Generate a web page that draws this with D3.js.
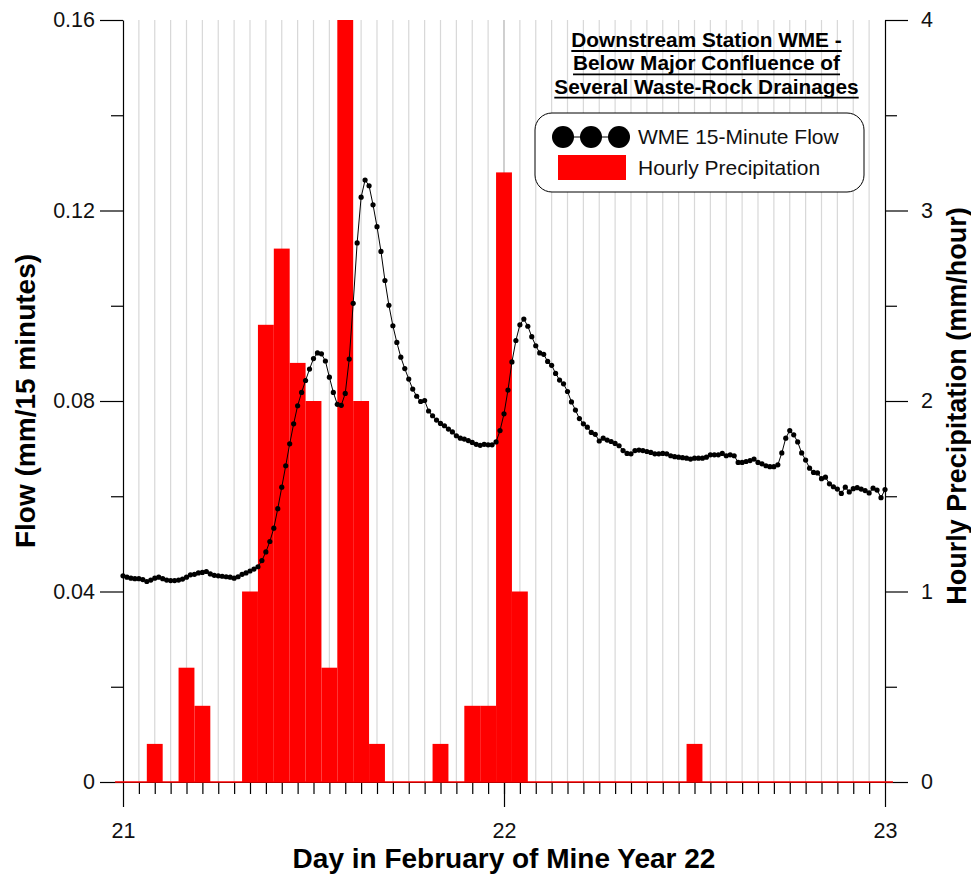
<!DOCTYPE html>
<html>
<head>
<meta charset="utf-8">
<script src="https://cdn.jsdelivr.net/npm/d3@7"></script>
<style>
  html, body { margin: 0; padding: 0; background: #fff; }
  svg { display: block; font-family: Arial, "Liberation Sans", sans-serif; }
</style>
</head>
<body>
<svg id="chart" width="971" height="874"></svg>
<script>
// Day-of-month range shown on the x axis
const dayTicks = [21, 22, 23];
const startDay = 21;

// WME 15-minute flow (mm / 15 minutes), one value every 15 minutes from day 21 00:00
const flowValues = [
  0.0433, 0.0430, 0.0428, 0.0427, 0.0427, 0.0425, 0.0421, 0.0424, 0.0428, 0.0430,
  0.0427, 0.0424, 0.0423, 0.0423, 0.0424, 0.0426, 0.0430, 0.0435, 0.0436, 0.0439,
  0.0440, 0.0442, 0.0437, 0.0434, 0.0433, 0.0432, 0.0431, 0.0430, 0.0428, 0.0431,
  0.0436, 0.0439, 0.0443, 0.0447, 0.0452, 0.0465, 0.0483, 0.0505, 0.0533, 0.0574,
  0.0619, 0.0664, 0.0710, 0.0752, 0.0790, 0.0818, 0.0843, 0.0867, 0.0889, 0.0901,
  0.0899, 0.0884, 0.0850, 0.0818, 0.0793, 0.0791, 0.0816, 0.0888, 0.1005, 0.1132,
  0.1228, 0.1264, 0.1252, 0.1212, 0.1166, 0.1114, 0.1053, 0.1001, 0.0958, 0.0923,
  0.0892, 0.0868, 0.0846, 0.0825, 0.0810, 0.0799, 0.0801, 0.0779, 0.0769, 0.0760,
  0.0753, 0.0748, 0.0741, 0.0735, 0.0727, 0.0722, 0.0720, 0.0717, 0.0713, 0.0709,
  0.0707, 0.0709, 0.0708, 0.0708, 0.0714, 0.0738, 0.0773, 0.0823, 0.0882, 0.0927,
  0.0960, 0.0972, 0.0957, 0.0935, 0.0916, 0.0901, 0.0898, 0.0883, 0.0875, 0.0858,
  0.0844, 0.0836, 0.0820, 0.0798, 0.0781, 0.0763, 0.0752, 0.0745, 0.0734, 0.0730,
  0.0716, 0.0722, 0.0718, 0.0715, 0.0711, 0.0706, 0.0696, 0.0690, 0.0689, 0.0696,
  0.0697, 0.0696, 0.0694, 0.0692, 0.0689, 0.0689, 0.0690, 0.0689, 0.0685, 0.0683,
  0.0682, 0.0681, 0.0680, 0.0678, 0.0680, 0.0680, 0.0680, 0.0682, 0.0687, 0.0687,
  0.0687, 0.0690, 0.0685, 0.0687, 0.0685, 0.0671, 0.0671, 0.0673, 0.0675, 0.0678,
  0.0671, 0.0668, 0.0664, 0.0662, 0.0662, 0.0666, 0.0691, 0.0722, 0.0738, 0.0729,
  0.0714, 0.0691, 0.0676, 0.0659, 0.0650, 0.0649, 0.0637, 0.0640, 0.0626, 0.0620,
  0.0615, 0.0606, 0.0619, 0.0609, 0.0616, 0.0618, 0.0615, 0.0612, 0.0607, 0.0617,
  0.0613, 0.0597, 0.0614
];

// Hourly precipitation (mm / hour), one value per hour from day 21 00:00 to day 23 00:00
const precipValues = [
  0, 0, 0.2, 0, 0.6, 0.4, 0, 0, 1.0, 2.4,
  2.8, 2.2, 2.0, 0.6, 4.0, 2.0, 0.2, 0, 0, 0,
  0.2, 0, 0.4, 0.4, 3.2, 1.0, 0, 0, 0, 0,
  0, 0, 0, 0, 0, 0, 0.2, 0, 0, 0,
  0, 0, 0, 0, 0, 0, 0, 0, 0
];

const flowTicks = [0, 0.04, 0.08, 0.12, 0.16];
const flowMinorTicks = [0.02, 0.06, 0.10, 0.14];
const precipTicks = [0, 1, 2, 3, 4];
const precipMinorTicks = [0.5, 1.5, 2.5, 3.5];

const titleLines = [
  "Downstream Station WME -",
  "Below Major Confluence of",
  "Several Waste-Rock Drainages"
];
const legendLabels = ["WME 15-Minute Flow", "Hourly Precipitation"];

// ---- layout ----
const plotLeft = 123, plotRight = 885, plotTop = 20, plotBottom = 782;
const svg = d3.select("#chart");

const x = d3.scaleLinear().domain([21, 23]).range([plotLeft, plotRight]);
const yFlow = d3.scaleLinear().domain([0, 0.16]).range([plotBottom, plotTop]);
const yPrecip = d3.scaleLinear().domain([0, 4]).range([plotBottom, plotTop]);

const flowData = flowValues.map((v, i) => ({ t: startDay + i / 96, v }));
const precipData = precipValues.map((v, i) => ({ t: startDay + i / 24, v }));
const hourLines = d3.range(1, 48).map(h => startDay + h / 24);
const hourStep = x(startDay + 1 / 24) - x(startDay);

// hourly vertical grid
svg.append("g").selectAll("line").data(hourLines).join("line")
  .attr("x1", d => x(d)).attr("x2", d => x(d))
  .attr("y1", plotTop).attr("y2", plotBottom)
  .attr("stroke", d => Math.abs(d - 22) < 1e-6 ? "#b0b0b0" : "#d8d8d8")
  .attr("stroke-width", 1.2);

// precipitation bars, centred on each hour
svg.append("g").selectAll("rect").data(precipData.filter(d => d.v > 0)).join("rect")
  .attr("x", d => x(d.t) - hourStep / 2)
  .attr("width", hourStep)
  .attr("y", d => yPrecip(d.v))
  .attr("height", d => yPrecip(0) - yPrecip(d.v))
  .attr("fill", "#ff0000");

// axes
const axisColor = "#000";
function styleAxis(g) {
  g.select(".domain").attr("stroke", axisColor).attr("stroke-width", 1.2);
  g.selectAll(".tick line").attr("stroke", axisColor).attr("stroke-width", 1.2);
  g.selectAll(".tick text").attr("fill", "#111").style("font-size", "21.5px")
    .style("font-family", "Arial, 'Liberation Sans', sans-serif");
}
function minorTicks(g) {
  g.select(".domain").remove();
  g.selectAll(".tick line").attr("stroke", axisColor).attr("stroke-width", 1.2);
}

// left (flow)
svg.append("g").attr("transform", `translate(${plotLeft},0)`)
  .call(d3.axisLeft(yFlow).tickValues(flowMinorTicks).tickSize(12).tickFormat("").tickSizeOuter(0))
  .call(minorTicks);
svg.append("g").attr("transform", `translate(${plotLeft},0)`)
  .call(d3.axisLeft(yFlow).tickValues(flowTicks).tickSize(23).tickSizeOuter(0)
    .tickPadding(5).tickFormat(d => d === 0 ? "0" : d3.format(".2f")(d)))
  .call(styleAxis);

// right (precipitation)
svg.append("g").attr("transform", `translate(${plotRight},0)`)
  .call(d3.axisRight(yPrecip).tickValues(precipMinorTicks).tickSize(12).tickFormat("").tickSizeOuter(0))
  .call(minorTicks);
svg.append("g").attr("transform", `translate(${plotRight},0)`)
  .call(d3.axisRight(yPrecip).tickValues(precipTicks).tickSize(23).tickSizeOuter(0)
    .tickPadding(13).tickFormat(d3.format("d")))
  .call(styleAxis);

// bottom (days, with hourly minor ticks)
svg.append("g").attr("transform", `translate(0,${plotBottom})`)
  .call(d3.axisBottom(x).tickValues(hourLines).tickSize(12).tickFormat("").tickSizeOuter(0))
  .call(minorTicks);
svg.append("g").attr("transform", `translate(0,${plotBottom})`)
  .call(d3.axisBottom(x).tickValues(dayTicks).tickSize(25).tickSizeOuter(0)
    .tickPadding(16).tickFormat(d3.format("d")))
  .call(styleAxis);

// red zero line of the precipitation series
svg.append("line")
  .attr("x1", x(startDay) - hourStep / 2)
  .attr("x2", x(startDay + 2) + hourStep / 2)
  .attr("y1", yPrecip(0)).attr("y2", yPrecip(0))
  .attr("stroke", "#ff0000").attr("stroke-width", 1.6);

// flow line with markers
svg.append("path").datum(flowData)
  .attr("fill", "none").attr("stroke", "#000").attr("stroke-width", 1)
  .attr("d", d3.line().x(d => x(d.t)).y(d => yFlow(d.v)));
svg.append("g").selectAll("circle").data(flowData).join("circle")
  .attr("cx", d => x(d.t)).attr("cy", d => yFlow(d.v)).attr("r", 2.6)
  .attr("fill", "#000");

// axis titles
svg.append("text")
  .attr("transform", `translate(35,${(plotTop + plotBottom) / 2}) rotate(-90)`)
  .attr("text-anchor", "middle").style("font-size", "28px").style("font-weight", "bold")
  .text("Flow (mm/15 minutes)");
svg.append("text")
  .attr("transform", `translate(966,${(plotTop + plotBottom) / 2 + 5}) rotate(-90)`)
  .attr("text-anchor", "middle").style("font-size", "27px").style("font-weight", "bold")
  .text("Hourly Precipitation (mm/hour)");
svg.append("text")
  .attr("x", (plotLeft + plotRight) / 2).attr("y", 868)
  .attr("text-anchor", "middle").style("font-size", "28px").style("font-weight", "bold")
  .text("Day in February of Mine Year 22");

// underlined title block
const titleX = 706.5;
titleLines.forEach((line, i) => {
  const base = 47 + i * 23.3;
  const t = svg.append("text")
    .attr("x", titleX).attr("y", base)
    .attr("text-anchor", "middle").style("font-size", "20.8px").style("font-weight", "bold")
    .text(line);
  const bb = t.node().getBBox();
  svg.append("line")
    .attr("x1", bb.x).attr("x2", bb.x + bb.width)
    .attr("y1", base + 4).attr("y2", base + 4)
    .attr("stroke", "#000").attr("stroke-width", 1.8);
});

// legend
const lg = svg.append("g");
lg.append("rect")
  .attr("x", 535).attr("y", 113).attr("width", 329).attr("height", 79)
  .attr("rx", 17).attr("ry", 17)
  .attr("fill", "#fff").attr("stroke", "#000").attr("stroke-width", 1);
lg.append("line").attr("x1", 563).attr("x2", 619).attr("y1", 137).attr("y2", 137)
  .attr("stroke", "#000").attr("stroke-width", 1);
lg.selectAll("circle").data([563, 591, 619]).join("circle")
  .attr("cx", d => d).attr("cy", 137).attr("r", 11).attr("fill", "#000");
lg.append("rect").attr("x", 558).attr("y", 155).attr("width", 68).attr("height", 25)
  .attr("fill", "#ff0000");
legendLabels.forEach((label, i) => {
  lg.append("text").attr("x", 638).attr("y", 144 + i * 30.5)
    .style("font-size", "21px").attr("fill", "#111").text(label);
});
</script>
</body>
</html>
